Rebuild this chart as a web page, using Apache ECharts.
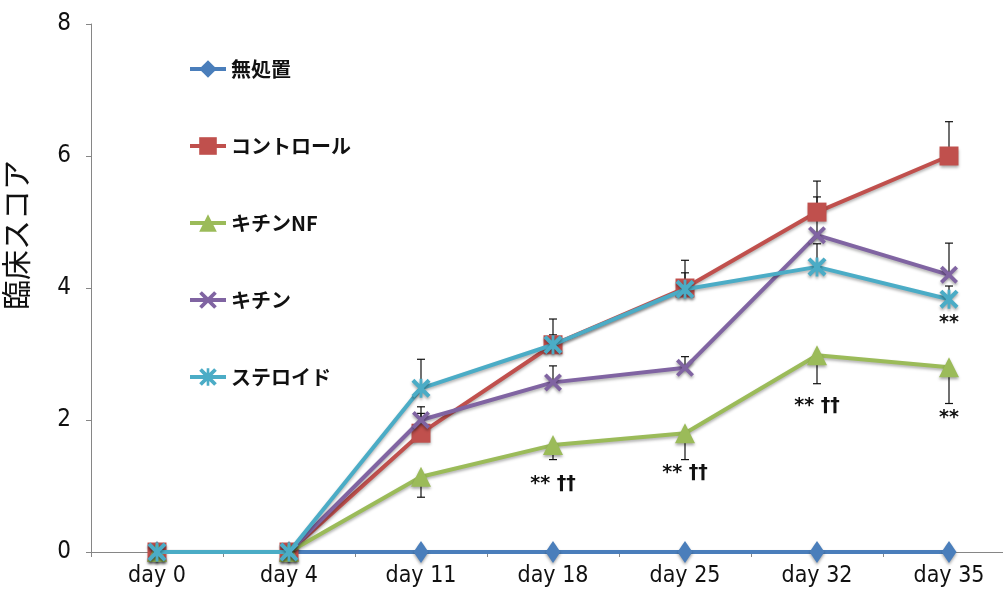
<!DOCTYPE html>
<html>
<head>
<meta charset="utf-8">
<script src="https://cdn.jsdelivr.net/npm/echarts@6/dist/echarts.min.js"></script>
<style>
  html, body { margin: 0; padding: 0; background: #fff; }
  #main { width: 1003px; height: 601px; }
</style>
</head>
<body>
<div id="main"></div>
<script>
// data
var days = ['day 0', 'day 4', 'day 11', 'day 18', 'day 25', 'day 32', 'day 35']
var yTicks = [0, 2, 4, 6, 8]

var mushochi = [0, 0, 0, 0, 0, 0, 0]
var control = [0, 0, 1.80, 3.14, 4.00, 5.15, 6.00]
var chitinNF = [0, 0, 1.14, 1.62, 1.80, 2.98, 2.80]
var chitin = [0, 0, 2.00, 2.57, 2.79, 4.80, 4.20]
var steroid = [0, 0, 2.48, 3.14, 3.98, 4.32, 3.83]

// error bars (red / purple / cyan drawn upward, green downward)
var controlErr = [0, 0, 0.30, 0.39, 0.42, 0.47, 0.52]
var chitinNFErr = [0, 0, 0.31, 0.22, 0.40, 0.43, 0.55]
var chitinErr = [0, 0, 0.20, 0.25, 0.17, 0.58, 0.48]
var steroidErr = [0, 0, 0.44, 0.15, 0.25, 0.35, 0.20]

// significance marks
var nfMarkDays = ['day 18', 'day 25', 'day 32', 'day 35']
var nfMarks = ['** ††', '** ††', '** ††', '**']
var steroidMarkDays = ['day 35']
var steroidMarks = ['**']

var names = ['無処置', 'コントロール', 'キチンNF', 'キチン', 'ステロイド']
var colors = ['#4a7ebb', '#c0504d', '#9bbb59', '#8064a2', '#4bacc6']

var numFont = 'DejaVu Sans Condensed, Liberation Sans, sans-serif'
var xPath = 'path://M0,3 L3,0 L10,7 L17,0 L20,3 L13,10 L20,17 L17,20 L10,13 L3,20 L0,17 L7,10 Z'
var starPath = 'path://M0,3 L3,0 L10,7 L17,0 L20,3 L13,10 L20,17 L17,20 L10,13 L3,20 L0,17 L7,10 Z M8.5,0 L11.5,0 L11.5,20 L8.5,20 Z'

var myChart = echarts.init(document.getElementById('main'))

function lineSeries (i, data, symbol, size) {
  return {
    name: names[i],
    type: 'line',
    data: data,
    symbol: symbol,
    symbolSize: size,
    z: 3 + i,
    lineStyle: {
      width: 4, color: colors[i],
      shadowBlur: 3, shadowColor: 'rgba(0,0,0,0.3)', shadowOffsetY: 2
    },
    itemStyle: {
      color: colors[i], opacity: 1,
      shadowBlur: 3, shadowColor: 'rgba(0,0,0,0.35)', shadowOffsetY: 2
    },
    emphasis: { disabled: true }
  }
}

function errData (vals, errs, dir) {
  var out = []
  vals.forEach(function (v, i) {
    if (errs[i] > 0) out.push([i, v, errs[i] * dir])
  })
  return out
}

function errSeries (vals, errs, dir) {
  return {
    type: 'custom',
    z: 2,
    silent: true,
    data: errData(vals, errs, dir),
    renderItem: function (params, api) {
      var p = api.coord([api.value(0), api.value(1)])
      var q = api.coord([api.value(0), api.value(1) + api.value(2)])
      var st = { stroke: '#111', lineWidth: 1.2 }
      return {
        type: 'group',
        children: [
          { type: 'line', shape: { x1: p[0], y1: p[1], x2: q[0], y2: q[1] }, style: st },
          { type: 'line', shape: { x1: q[0] - 4, y1: q[1], x2: q[0] + 4, y2: q[1] }, style: st }
        ]
      }
    }
  }
}

function marks (dayList, texts, vals, offsets) {
  return {
    silent: true,
    symbol: 'rect',
    symbolSize: 1,
    itemStyle: { color: 'rgba(0,0,0,0)', shadowBlur: 0 },
    label: {
      show: true,
      position: 'inside',
      color: '#111',
      fontFamily: 'DejaVu Sans',
      fontWeight: 'bold',
      fontSize: 19,
      formatter: function (p) { return p.name }
    },
    data: dayList.map(function (d, k) {
      return {
        name: texts[k],
        coord: [d, vals[days.indexOf(d)]],
        label: { offset: [0, offsets[k]] }
      }
    })
  }
}

var nfSeries = lineSeries(2, chitinNF, 'triangle', 20)
nfSeries.markPoint = marks(nfMarkDays, nfMarks, chitinNF, [39, 40, 51, 51])
var stSeries = lineSeries(4, steroid, starPath, 19)
stSeries.markPoint = marks(steroidMarkDays, steroidMarks, steroid, [24])

var option = {
  animation: false,
  grid: { left: 91, right: -12, top: 24, bottom: 49, outerBoundsMode: 'none', containLabel: false },
  legend: {
    orient: 'vertical',
    left: 183,
    top: 54,
    itemWidth: 36,
    itemHeight: 22,
    itemGap: 57,
    data: names,
    lineStyle: { width: 4 },
    textStyle: { color: '#111', fontSize: 20, fontWeight: 'bold', fontFamily: 'Noto Sans CJK JP' }
  },
  xAxis: {
    type: 'category',
    data: days,
    boundaryGap: true,
    axisLine: { lineStyle: { color: '#868686', width: 1 } },
    axisTick: { show: true, length: 5, lineStyle: { color: '#868686' } },
    axisLabel: { color: '#111', fontSize: 23, margin: 13, fontFamily: numFont }
  },
  yAxis: {
    type: 'value',
    min: yTicks[0],
    max: yTicks[yTicks.length - 1],
    interval: 2,
    name: '臨床スコア',
    nameLocation: 'middle',
    nameRotate: 90,
    nameGap: 60,
    nameTextStyle: { color: '#111', fontSize: 30, fontFamily: 'Noto Sans CJK JP', padding: [0, 0, 0, 106] },
    axisLine: { show: true, lineStyle: { color: '#868686', width: 1 } },
    axisTick: { show: true, length: 5, lineStyle: { color: '#868686' } },
    splitLine: { show: false },
    axisLabel: { color: '#111', fontSize: 24, margin: 20, fontFamily: numFont }
  },
  series: [
    errSeries(control, controlErr, 1),
    errSeries(chitinNF, chitinNFErr, -1),
    errSeries(chitin, chitinErr, 1),
    errSeries(steroid, steroidErr, 1),
    lineSeries(0, mushochi, 'diamond', [15, 22]),
    lineSeries(1, control, 'rect', 19),
    nfSeries,
    lineSeries(3, chitin, xPath, 18),
    stSeries
  ]
}

myChart.setOption(option)
</script>
</body>
</html>
